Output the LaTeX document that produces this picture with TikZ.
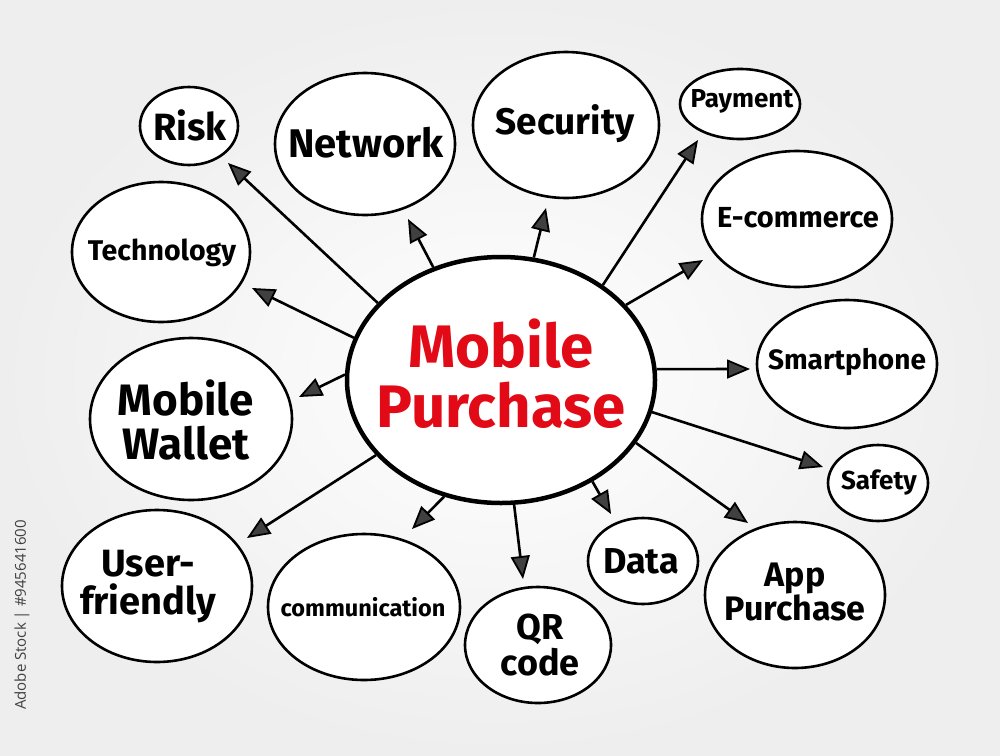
\documentclass[tikz,border=0pt]{standalone}
\usepackage{fontspec}
\setmainfont{Fira Sans}
\newfontfamily\wmfont{Open Sans}
\usetikzlibrary{arrows.meta,shapes.geometric}
\definecolor{mpred}{RGB}{226,10,22}
\definecolor{bggray}{RGB}{238,238,238}
\begin{document}
\begin{tikzpicture}[x=1pt,y=-1pt,
  bub/.style={ellipse, draw=black, line width=2.6pt, fill=white, inner sep=0pt},
  lab/.style={font=\bfseries\fontsize{#1}{#1}\selectfont, align=center, text=black, inner sep=0pt},
  arr/.style={line width=2.6pt, -{Triangle[length=23pt,width=19pt,line width=1.8pt,fill=black!75]}}]
\useasboundingbox (0,0) rectangle (1000,755);
\shade[inner color=white, outer color=bggray] (0,0) rectangle (1000,755);

% central node
\node (c) [bub, line width=4.5pt, minimum width=308pt, minimum height=246pt] at (501,380) {};
\node (ct) [lab=60, text=mpred] at (501,374) {Mobile\\Purchase};

% satellites
\node (risk) [bub, minimum width=98pt, minimum height=78pt] at (189,126) {};
\node (riskt) [lab=38] at (190,125) {Risk};
\node (net) [bub, minimum width=180pt, minimum height=142pt] at (365,144) {};
\node (nett) [lab=40] at (366,143) {Network};
\node (sec) [bub, minimum width=186pt, minimum height=146pt] at (566,125) {};
\node (sect) [lab=37] at (565,124) {Security};
\node (pay) [bub, minimum width=120pt, minimum height=70pt] at (740,104) {};
\node (payt) [lab=26] at (742,101) {Payment};
\node (ecom) [bub, minimum width=190pt, minimum height=136pt] at (797,219) {};
\node (ecomt) [lab=29] at (798,218) {E-commerce};
\node (tech) [bub, minimum width=178pt, minimum height=140pt] at (161,252) {};
\node (techt) [lab=28.5] at (162,253) {Technology};
\node (smart) [bub, minimum width=180pt, minimum height=128pt] at (847,364) {};
\node (smartt) [lab=28] at (847,362) {Smartphone};
\node (wal) [bub, minimum width=202pt, minimum height=162pt] at (191,419) {};
\node (walt) [lab=44] at (186,420) {Mobile\\Wallet};
\node (saf) [bub, minimum width=100pt, minimum height=76pt] at (878,483) {};
\node (saft) [lab=26] at (879,483) {Safety};
\node (user) [bub, minimum width=190pt, minimum height=152pt] at (157,586) {};
\node (usert) [lab=38] at (148,587) {User-\\friendly};
\node (com) [bub, minimum width=192pt, minimum height=146pt] at (364,607) {};
\node (comt) [lab=23.5] at (363,607) {communication};
\node (qr) [bub, minimum width=146pt, minimum height=116pt] at (538,645) {};
\node (qrt) [lab=36] at (540,645) {QR\\code};
\node (data) [bub, minimum width=110pt, minimum height=86pt] at (643,561) {};
\node (datat) [lab=36] at (641,561) {Data};
\node (app) [bub, minimum width=180pt, minimum height=146pt] at (795,595) {};
\node (appt) [lab=34] at (795,592) {App\\Purchase};

% arrow tips
\coordinate (tRisk) at (228,163);
\coordinate (tNet) at (408,219);
\coordinate (tSec) at (546,208);
\coordinate (tPay) at (698,140);
\coordinate (tEcom) at (703,260);
\coordinate (tTech) at (252,288);
\coordinate (tSmart) at (750,369);
\coordinate (tWal) at (299,397);
\coordinate (tSaf) at (823,467);
\coordinate (tUser) at (247,538);
\coordinate (tCom) at (412,529);
\coordinate (tQr) at (523,579);
\coordinate (tData) at (611,514);
\coordinate (tApp) at (748,523);

\draw[arr] (c.148) -- (tRisk);
\draw[arr] (c.121) -- (tNet);
\draw[arr] (c.75) -- (tSec);
\draw[arr] (c.43) -- (tPay);
\draw[arr] (c.31) -- (tEcom);
\draw[arr] (c.164) -- (tTech);
\draw[arr] (c.4) -- (tSmart);
\draw[arr] (c.178) -- (tWal);
\draw[arr] (c.-12) -- (tSaf);
\draw[arr] (c.211) -- (tUser);
\draw[arr] (c.244) -- (tCom);
\draw[arr] (c.276) -- (tQr);
\draw[arr] (c.-48) -- (tData);
\draw[arr] (c.-25) -- (tApp);

% stock credit
\node (wm) [rotate=90, font=\wmfont\fontsize{15}{15}\selectfont, text=black!75] at (22,615) {Adobe Stock | \#945641600};
\end{tikzpicture}
\end{document}
